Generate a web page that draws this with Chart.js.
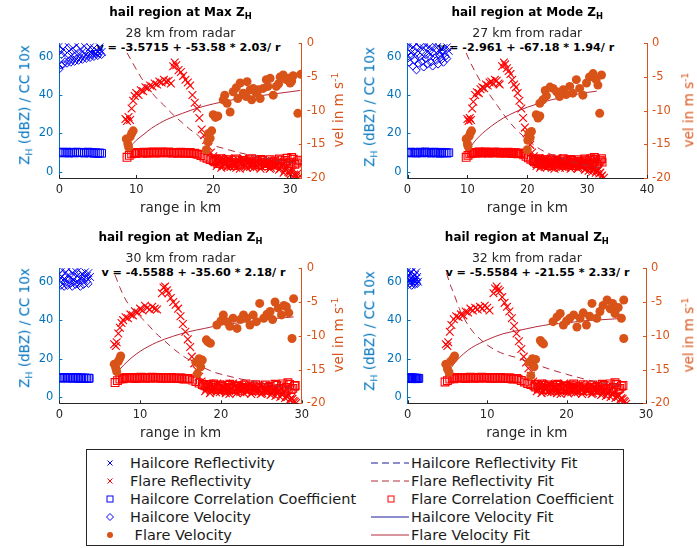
<!DOCTYPE html>
<html>
<head>
<meta charset="utf-8">
<script src="https://cdn.jsdelivr.net/npm/chart.js@4.4.0/dist/chart.umd.min.js"></script>
<style>
body { margin: 0; background: #fff; font-family: 'DejaVu Sans', sans-serif; }
#page { position: relative; width: 697px; height: 548px; overflow: hidden; }
canvas { position: absolute; }
.t { position: absolute; white-space: nowrap; line-height: 1; transform: translate(-50%, -50%); }
.rot { transform: translate(-50%, -50%) rotate(-90deg); }
.title { font-size: 12px; font-weight: bold; color: #000; }
.sub { font-size: 12.5px; color: #262626; }
.eq { font-size: 11.2px; font-weight: bold; color: #000; transform: translate(-50%, -50%); }
.axl { font-size: 13.5px; }
sub { font-size: 0.7em; vertical-align: -0.35em; line-height: 0; }
sup { font-size: 0.7em; vertical-align: 0.55em; line-height: 0; }
#legend { position: absolute; left: 86px; top: 449px; width: 536px; height: 95px; border: 1px solid #262626; background: #fff; }
#legend .lt { position: absolute; font-size: 14.5px; color: #1a1a1a; white-space: pre; line-height: 1; transform: translateY(-50%); }
#legend svg { position: absolute; }
</style>
</head>
<body>
<div id="page"><div id="legend"></div></div>
<script>
// tick labels
const leftTicks = [0, 20, 40, 60];
const rightTicks = [-20, -15, -10, -5, 0];
const xTicksMax = [0, 10, 20, 30];
const xTicksMode = [0, 10, 20, 30, 40];
const xTicksMedian = [0, 10, 20, 30];
const xTicksManual = [0, 10, 20, 30];

const panelNames = ['Max', 'Mode', 'Median', 'Manual'];
const distances = [28, 27, 30, 32];
const equations = [
  'v = -3.5715 + -53.58 * 2.03/ r',
  'v = -2.961 + -67.18 * 1.94/ r',
  'v = -4.5588 + -35.60 * 2.18/ r',
  'v = -5.5584 + -21.55 * 2.33/ r'
];

// ---- Max Z_H ----
const maxHailRef = [[0,65.5],[0.25,62],[0.5,64],[0.75,61],[1,66],[1.25,63],[1.5,60.5],[1.75,64.5],[2,62],[2.25,66],[2.5,61.5],[2.75,64],[3,62.5],[3.25,65.5],[3.5,61],[3.75,63.5],[4,65],[4.25,62],[4.5,64.5],[4.75,61.5],[5,63],[5.25,65],[5.5,62.5]];
const maxHailVel = [[0,53.5],[0.25,55.5],[0.5,56],[0.75,57.5],[1,56.5],[1.25,58],[1.5,57],[1.75,58.5],[2,57.5],[2.25,59],[2.5,58],[2.75,59.5],[3,58.5],[3.25,60],[3.5,59],[3.75,60.5],[4,59.5],[4.25,61],[4.5,60],[4.75,61.5],[5,60.5],[5.25,62],[5.5,61]];
const maxHailCC = [[0,10.2],[0.25,9.8],[0.5,10.1],[0.75,9.9],[1,10.2],[1.25,9.7],[1.5,10],[1.75,10.1],[2,9.8],[2.25,10.2],[2.5,9.9],[2.75,10],[3,10.1],[3.25,9.7],[3.5,10],[3.75,10.2],[4,9.8],[4.25,10],[4.5,9.6],[4.75,9.9],[5,9.5],[5.25,9.8],[5.5,9.6]];
const maxFlareRef = [[8.6,27.5],[8.8,26.5],[9.0,28.5],[9.2,27],[9.4,33],[9.6,37],[9.8,39.5],[10.0,41],[10.3,40],[10.6,42.5],[10.9,42],[11.2,44],[11.5,43.5],[11.8,45],[12.1,44.5],[12.4,46],[12.7,45.5],[13.0,47],[13.3,46.5],[13.6,48],[13.9,47],[14.2,47.5],[14.5,46],
  [14.8,55],[15.0,57],[15.2,55.5],[15.5,53],[15.8,52],[16.1,50],[16.4,48],[16.7,46.5],[17.0,45],[17.3,40],[17.6,36],[17.9,33],[18.2,28],[18.5,22],[18.8,19],[19.1,16.5],[19.4,13],[19.7,10],[20.0,8],
  [20.3,6],[20.6,4],[20.9,7],[21.2,3],[21.5,5.5],[21.8,2.5],[22.1,6.5],[22.4,3.5],[22.7,5],[23.0,2],[23.3,6],[23.6,4],[23.9,7],[24.2,3],[24.5,5],[24.8,2.5],[25.1,6],[25.4,4],[25.7,3],[26.0,6.5],[26.3,2.5],[26.6,5],[26.9,3.5],[27.2,6],[27.5,2],[27.8,4.5],[28.1,3],[28.4,5.5],[28.7,1.5],[29.0,3.5],[29.3,0.5],[29.6,2],[29.9,-0.5],[30.2,1],[30.5,-1.5],[30.8,-2.5],[31.1,-3],
  [20.45,3],[20.75,5.5],[21.05,2],[21.35,6.5],[21.65,4],[21.95,7],[22.25,2.5],[22.55,5],[22.85,3.5],[23.15,6.5],[23.45,1.5],[23.75,4.5],[24.05,5.5],[24.35,2],[24.65,6.5],[24.95,4],[25.25,2],[25.55,5.5],[25.85,4.5],[26.15,1.5],[26.45,5.5],[26.75,3],[27.05,4.5],[27.35,1.5],[27.65,5.5],[27.95,2.5],[28.25,4],[28.55,1],[28.85,3],[29.15,-0.5],[29.45,2.5],[29.75,0],[30.05,-1.5],[30.35,0.5],[30.65,-2],[30.95,-1]];
const maxFlareCC = [[8.8,7.5],[9.1,8.5],[9.4,9.3],[9.7,9.6],[10.0,9.8],[10.4,10],[10.8,9.7],[11.2,10.1],[11.6,9.8],[12.0,10.2],[12.4,9.9],[12.8,10],[13.2,10.3],[13.6,10],[14.0,9.8],[14.4,10.1],[14.8,9.7],[15.2,10],[15.6,9.8],[16.0,10.1],[16.4,9.6],[16.8,9.9],[17.2,9.5],[17.6,9.7],[18.0,9],[18.4,8.4],[18.8,7.6],[19.2,7],[19.6,6.3],[20.0,5.8],[20.4,6.5],[20.8,5],[21.2,6],[21.6,4.5],[22.0,5.5],[22.4,4],[22.8,6],[23.2,5],[23.6,3.8],[24.0,5.5],[24.4,4.5],[24.8,6.2],[25.2,4],[25.6,5.2],[26.0,3.5],[26.4,5.8],[26.8,4.2],[27.2,5],[27.6,3.7],[28.0,5.5],[28.4,4.2],[28.8,6],[29.2,4.5],[29.6,7],[30.0,5],[30.4,6.5],[30.8,4.5],[31.2,6],
  [9.9,9.5],[10.2,10.1],[10.6,9.9],[11.0,10.2],[11.4,9.6],[11.8,10],[12.2,10.3],[12.6,9.7],[13.0,9.9],[13.4,10.2],[13.8,9.9],[14.2,10.3],[14.6,9.8],[15.0,10.1],[15.4,9.6],[15.8,10.2],[16.2,9.9],[16.6,9.7],[17.0,10],[17.4,9.4],[17.8,9.3],
  [20.2,5.2],[20.6,4.2],[21.0,6.8],[21.4,3.8],[21.8,6.2],[22.2,4.8],[22.6,3.2],[23.0,6.6],[23.4,4.4],[23.8,5.9],[24.2,3.4],[24.6,4.9],[25.0,6.8],[25.4,4.6],[25.8,3.6],[26.2,6.4],[26.6,4.8],[27.0,3.2],[27.4,6.2],[27.8,5],[28.2,3.4],[28.6,6.6],[29.0,3.8],[29.4,5.8],[29.8,4.2],[30.2,7.4],[30.6,3.8],[31.0,5.6]];
const maxFlareVel = [[8.7,-14.2],[8.9,-14.9],[9.0,-15.4],[9.2,-13.9],[9.4,-13.4],[9.6,-13.0],
  [19.1,-15.8],[19.3,-14.6],[19.4,-13.4],[19.6,-14.1],[19.8,-13.0],[20.0,-10.6],[20.3,-11.0],[20.6,-10.8],
  [21.3,-8.4],[21.5,-7.7],[21.8,-8.9],[22.2,-10.2],[22.6,-7.2],[23.0,-6.6],[23.2,-8.2],[23.5,-5.9],[23.9,-7.4],[24.3,-7.9],[24.4,-5.7],[24.8,-6.9],[25.0,-8.4],[25.2,-6.7],[25.6,-7.4],[25.9,-6.9],[26.1,-8.2],[26.5,-6.7],[26.9,-5.4],[27.1,-6.4],[27.4,-5.2],[27.8,-7.7],[28.2,-6.4],[28.5,-6.0],[28.7,-5.0],[29.1,-4.7],[29.5,-5.4],[29.8,-5.2],[30.0,-5.9],[30.2,-5.6],[30.4,-4.8],[31.0,-10.4],[31.4,-4.6]];
const maxRefFit = [[8.8,62],[9.5,57],[10.5,50],[11.5,44],[12.5,39],[13.5,35],[14.8,29.7],[16,25.5],[17,22],[18,19],[19,15.3],[20,13.7],[21.3,12.2],[23,10.3],[25.7,7.9],[28,6.2],[30.9,4.4],[31.4,4.2]];
const maxVelFit = [[9.2,-15.4],[10,-14.4],[11,-13.5],[12,-12.6],[13,-11.9],[14,-11.3],[16,-10.4],[18,-9.6],[20,-9.0],[22,-8.5],[24,-8.1],[26,-7.8],[28,-7.5],[30,-7.2],[31.3,-7.0]];

// ---- Mode Z_H ----
const modeHailRef = [[0,64],[0.3,66],[0.6,62],[0.9,65],[1.2,61.5],[1.5,66.5],[1.8,63],[2.1,65],[2.4,61],[2.7,64.5],[3.0,66],[3.3,62.5],[3.6,65],[3.9,61.5],[4.2,64],[4.5,66],[4.8,62],[5.1,65.5],[5.4,63],[5.7,61],[6.0,64.5],[6.3,62.5],[6.6,65],[6.9,63]];
const modeHailVel = [[0,59],[0.3,57],[0.6,60.5],[0.9,55],[1.2,58],[1.5,53],[1.8,56.5],[2.1,60],[2.4,57.5],[2.7,54.5],[3.0,59],[3.3,56],[3.6,60],[3.9,57],[4.2,55],[4.5,59.5],[4.8,58],[5.1,56],[5.4,60.5],[5.7,58.5],[6.0,57],[6.3,60],[6.6,59]];
const modeHailCC = [[0,10],[0.3,9.8],[0.6,10.2],[0.9,9.9],[1.2,10.1],[1.5,9.7],[1.8,10],[2.1,10.2],[2.4,9.8],[2.7,10],[3.0,10.3],[3.3,9.9],[3.6,10.1],[3.9,9.7],[4.2,10],[4.5,10.2],[4.8,9.8],[5.1,10],[5.4,9.6],[5.7,10.1],[6.0,9.8],[6.3,10],[6.6,9.7],[6.9,9.9]];
const modeFlareRef = [[10.0,27.5],[10.2,26.5],[10.4,28],[10.6,27],[10.8,33],[11.0,36.5],[11.3,40],[11.6,41.5],[11.9,41],[12.2,43],[12.5,44],[12.8,43.5],[13.1,45.5],[13.4,45],[13.7,46.5],[14.0,47],[14.3,46],[14.6,48],[14.9,47.5],[15.2,46],[15.4,45.5],
  [15.8,55],[16.1,57],[16.3,56],[16.6,54],[16.9,52.5],[17.2,51],[17.5,48],[17.8,45.5],[18.1,44],[18.4,41],[18.7,37],[19.0,33],[19.3,28],[19.6,23],[19.9,20],[20.2,17],[20.5,14],[20.8,10],[21.1,8],
  [21.4,6],[21.7,4],[22.0,7],[22.3,3],[22.6,5.5],[22.9,2.5],[23.2,6.5],[23.5,3.5],[23.8,5],[24.1,2],[24.4,6],[24.7,4],[25.0,7],[25.3,3],[25.6,5],[25.9,2.5],[26.2,6],[26.5,4],[26.8,3],[27.1,6.5],[27.4,2.5],[27.7,5],[28.0,3.5],[28.3,6],[28.6,2],[28.9,4.5],[29.2,3],[29.5,5.5],[29.8,1.5],[30.1,3.5],[30.4,2],[30.7,4],[31.0,1.5],[31.3,3],[31.6,0.5],[31.9,1.5],[32.2,-0.5],[32.5,-2],[32.8,-3.2],
  [21.55,3],[21.85,5.5],[22.15,2],[22.45,6.5],[22.75,4],[23.05,7],[23.35,2.5],[23.65,5],[23.95,3.5],[24.25,6.5],[24.55,1.5],[24.85,4.5],[25.15,5.5],[25.45,2],[25.75,6.5],[26.05,4],[26.35,2],[26.65,5.5],[26.95,4.5],[27.25,1.5],[27.55,5.5],[27.85,3],[28.15,4.5],[28.45,1.5],[28.75,5.5],[29.05,2.5],[29.35,4],[29.65,1],[29.95,3],[30.25,0.5],[30.55,2.5],[30.85,0],[31.15,1.5],[31.45,-0.5],[31.75,0.5],[32.05,-1],[32.35,-2.5]];
const modeFlareCC = [[9.8,7.5],[10.1,8.5],[10.4,9.3],[10.7,9.7],[11.0,10],[11.4,9.8],[11.8,10.2],[12.2,9.9],[12.6,10.1],[13.0,10.3],[13.4,9.9],[13.8,10.1],[14.2,9.8],[14.6,10.2],[15.0,10],[15.4,9.8],[15.8,10.1],[16.2,9.7],[16.6,10],[17.0,9.8],[17.4,9.6],[17.8,9.9],[18.2,9.5],[18.6,9.7],[19.0,9.4],[19.4,8.8],[19.8,8],[20.2,7.2],[20.6,6.5],[21.0,5.8],[21.4,6.5],[21.8,5],[22.2,6],[22.6,4.5],[23.0,5.5],[23.4,4],[23.8,6],[24.2,5],[24.6,3.8],[25.0,5.5],[25.4,4.5],[25.8,6.2],[26.2,4],[26.6,5.2],[27.0,3.5],[27.4,5.8],[27.8,4.2],[28.2,5],[28.6,3.7],[29.0,5.5],[29.4,4.2],[29.8,6],[30.2,4.5],[30.6,6.8],[31.0,5],[31.4,6.5],[31.8,4.5],[32.2,6],[32.5,5],
  [10.9,9.6],[11.2,10.1],[11.6,9.9],[12.0,10.3],[12.4,9.7],[12.8,10],[13.2,10.2],[13.6,9.7],[14.0,10],[14.4,10.2],[14.8,9.8],[15.2,10.2],[15.6,9.7],[16.0,10],[16.4,9.9],[16.8,10.2],[17.2,9.8],[17.6,9.6],[18.0,9.9],[18.4,9.3],[18.8,9.6],
  [21.2,5.2],[21.6,4.2],[22.0,6.8],[22.4,3.8],[22.8,6.2],[23.2,4.8],[23.6,3.2],[24.0,6.6],[24.4,4.4],[24.8,5.9],[25.2,3.4],[25.6,4.9],[26.0,6.8],[26.4,4.6],[26.8,3.6],[27.2,6.4],[27.6,4.8],[28.0,3.2],[28.4,6.2],[28.8,5],[29.2,3.4],[29.6,6.6],[30.0,3.8],[30.4,5.8],[30.8,4.2],[31.2,7.4],[31.6,3.8],[32.0,5.6],[32.4,6.8]];
const modeFlareVel = [[9.8,-14.2],[10.0,-14.9],[10.1,-15.3],[10.3,-13.8],[10.5,-13.3],[10.7,-13.0],
  [20.0,-15.8],[20.1,-14.4],[20.3,-13.4],[20.5,-14.0],[20.7,-13.1],[21.5,-10.6],[21.8,-11.1],[22.1,-10.8],
  [22.1,-8.9],[22.6,-8.4],[23.0,-7.0],[23.2,-7.8],[23.8,-6.5],[24.3,-6.7],[24.9,-7.2],[25.4,-7.9],[26.0,-6.9],[26.5,-7.6],[27.1,-6.4],[27.6,-7.4],[28.2,-5.4],[28.75,-6.7],[29.3,-7.7],[29.9,-5.9],[30.4,-5.0],[31.0,-4.5],[31.5,-5.4],[31.8,-6.2],[32.1,-10.4],[32.4,-4.7]];
const modeRefFit = [[9.8,62],[10.5,57],[11.5,51],[12.5,45.5],[13.75,40],[15,34.5],[16.5,28],[18,22.5],[19.9,17],[21.5,13],[23,10.3],[24.9,7.9],[27,5.6],[29,3.9],[31,2.6],[32.6,1.8]];
const modeVelFit = [[10.6,-15.3],[11,-14.8],[12,-13.8],[13,-13.0],[14,-12.3],[16,-11.1],[18,-10.2],[20,-9.5],[22,-8.9],[24,-8.4],[26,-8.0],[28,-7.6],[30,-7.3],[31.6,-7.1]];

// ---- Median Z_H ----
const medianHailRef = [[0,64],[0.2,62],[0.4,66],[0.6,61.5],[0.8,65],[1.0,63],[1.2,66.5],[1.4,62],[1.6,64.5],[1.8,61],[2.0,65.5],[2.2,63],[2.4,66],[2.6,62],[2.8,64],[3.0,61.5],[3.2,65],[3.4,63],[3.6,64.5],[3.8,62.5]];
const medianHailVel = [[0,59],[0.2,58],[0.4,60.5],[0.6,57.5],[0.8,59.5],[1.0,58],[1.2,61],[1.4,59],[1.6,57.5],[1.8,60],[2.0,58.5],[2.2,61],[2.4,59],[2.6,57.5],[2.8,60.5],[3.0,58.5],[3.2,61.5],[3.4,60],[3.6,59]];
const medianHailCC = [[0,10],[0.2,9.8],[0.4,10.1],[0.6,9.9],[0.8,10.2],[1.0,9.8],[1.2,10],[1.4,10.1],[1.6,9.7],[1.8,10],[2.0,9.9],[2.2,10.2],[2.4,9.6],[2.6,9.8],[2.8,10],[3.0,9.7],[3.2,9.9],[3.4,9.6],[3.6,9.8],[3.7,9.7]];
const medianFlareRef = [[6.8,27.5],[7.0,26.5],[7.1,28.5],[7.3,33],[7.5,36],[7.7,38.5],[7.9,40],[8.2,41.5],[8.5,41],[8.8,43],[9.1,42.5],[9.4,44.5],[9.7,44],[10.0,46],[10.3,45],[10.6,47.5],[10.9,46.5],[11.2,45.5],[11.5,47],[11.8,46],[12.1,45.5],
  [12.7,54],[12.9,57],[13.1,57.5],[13.3,55.5],[13.5,54],[13.8,51.5],[14.1,49.5],[14.4,48],[14.7,46],[15.0,42],[15.3,38],[15.6,34],[15.9,30],[16.2,26],[16.4,21],[16.7,17.5],[17.0,14],[17.3,10.5],[17.6,8],
  [17.9,6],[18.2,4],[18.5,7],[18.8,3],[19.1,5.5],[19.4,2.5],[19.7,6.5],[20.0,3.5],[20.3,5],[20.6,2],[20.9,6],[21.2,4],[21.5,7],[21.8,3],[22.1,5],[22.4,2.5],[22.7,6],[23.0,4],[23.3,3],[23.6,6.5],[23.9,2.5],[24.2,5],[24.5,3.5],[24.8,6],[25.1,2],[25.4,4.5],[25.7,3],[26.0,5.5],[26.3,1.5],[26.6,4],[26.9,2.5],[27.2,3.5],[27.5,1.5],[27.8,2.5],[28.1,0.5],[28.4,1],[28.7,-0.5],[29.0,-2],[29.3,-3.2],
  [18.05,3],[18.35,5.5],[18.65,2],[18.95,6.5],[19.25,4],[19.55,7],[19.85,2.5],[20.15,5],[20.45,3.5],[20.75,6.5],[21.05,1.5],[21.35,4.5],[21.65,5.5],[21.95,2],[22.25,6.5],[22.55,4],[22.85,2],[23.15,5.5],[23.45,4.5],[23.75,1.5],[24.05,5.5],[24.35,3],[24.65,4.5],[24.95,1.5],[25.25,5.5],[25.55,2.5],[25.85,4],[26.15,1],[26.45,3],[26.75,0.5],[27.05,2.5],[27.35,0],[27.65,1.5],[27.95,-0.5],[28.25,0],[28.55,-1.5],[28.85,-1],[29.15,-2.5]];
const medianFlareCC = [[6.9,7.5],[7.2,8.5],[7.5,9.3],[7.8,9.7],[8.1,10],[8.5,9.8],[8.9,10.2],[9.3,9.9],[9.7,10.1],[10.1,10.3],[10.5,9.9],[10.9,10.1],[11.3,9.8],[11.7,10.2],[12.1,10],[12.5,9.8],[12.9,10.1],[13.3,9.7],[13.7,10],[14.1,9.8],[14.5,9.6],[14.9,9.9],[15.3,9.5],[15.7,9.7],[16.1,9.4],[16.5,8.8],[16.9,8],[17.3,7.2],[17.7,6.5],[18.1,5.8],[18.5,6.5],[18.9,5],[19.3,6],[19.7,4.5],[20.1,5.5],[20.5,4],[20.9,6],[21.3,5],[21.7,3.8],[22.1,5.5],[22.5,4.5],[22.9,6.2],[23.3,4],[23.7,5.2],[24.1,3.5],[24.5,5.8],[24.9,4.2],[25.3,5],[25.7,3.7],[26.1,5.5],[26.5,4.2],[26.9,6],[27.3,4.5],[27.7,6.8],[28.1,5],[28.5,6.5],[28.9,4.5],[29.2,6],
  [7.9,9.5],[8.3,10.1],[8.7,9.9],[9.1,10.2],[9.5,9.6],[9.9,10],[10.3,10.2],[10.7,9.7],[11.1,10],[11.5,10.3],[11.9,9.8],[12.3,10.2],[12.7,9.7],[13.1,10],[13.5,9.9],[13.9,10.2],[14.3,9.8],[14.7,9.6],[15.1,9.9],[15.5,9.3],[15.9,9.6],
  [17.9,6.2],[18.3,5.2],[18.7,4.2],[19.1,6.8],[19.5,3.8],[19.9,6.2],[20.3,4.8],[20.7,3.2],[21.1,6.6],[21.5,4.4],[21.9,5.9],[22.3,3.4],[22.7,4.9],[23.1,6.8],[23.5,4.6],[23.9,3.6],[24.3,6.4],[24.7,4.8],[25.1,3.2],[25.5,6.2],[25.9,5],[26.3,3.4],[26.7,6.6],[27.1,3.8],[27.5,5.8],[27.9,4.2],[28.3,7.4],[28.7,3.8],[29.1,5.6]];
const medianFlareVel = [[6.8,-14.2],[7.0,-14.8],[7.1,-15.3],[7.3,-13.8],[7.5,-13.3],[7.6,-13.0],
  [16.9,-13.9],[17.1,-15.6],[17.3,-13.4],[17.5,-14.6],[17.7,-13.6],[18.2,-10.6],[18.4,-10.9],[18.7,-11.1],
  [19.5,-8.4],[20.0,-7.8],[20.3,-6.9],[20.7,-7.9],[21.1,-8.6],[21.5,-7.4],[22.0,-8.9],[22.4,-7.6],[22.8,-6.9],[23.2,-7.4],[23.6,-8.4],[24.0,-6.9],[24.4,-7.9],[24.8,-5.2],[25.3,-7.4],[25.7,-6.8],[26.1,-6.4],[26.4,-7.6],[26.7,-5.0],[27.1,-5.9],[27.5,-6.9],[27.8,-5.5],[28.1,-5.7],[28.4,-6.6],[28.8,-10.4],[29.0,-4.5]];
const medianRefFit = [[6.9,63.5],[7.5,57],[8.3,50],[9.5,44],[10.8,38.5],[12,33],[12.9,29.7],[14.3,24.5],[15.8,20],[17.5,16],[19.1,13],[21,10.8],[23.2,8.7],[25.5,6.8],[27.5,5.2],[29,4.4]];
const medianVelFit = [[6.9,-15.8],[8,-14.3],[9,-13.2],[10,-12.3],[12,-11.0],[14,-10.1],[16,-9.4],[18,-8.9],[20,-8.4],[22,-8.1],[24,-7.8],[26,-7.5],[28,-7.3],[29,-7.2]];

// ---- Manual Z_H ----
const manualHailRef = [[0,63],[0.1,66],[0.2,61],[0.3,64.5],[0.4,60],[0.5,65],[0.6,62],[0.7,66.5],[0.8,60.5],[0.9,63.5],[1.0,61.5],[1.1,65],[1.2,62.5],[1.3,60]];
const manualHailVel = [[0,60],[0.1,58.5],[0.2,61],[0.3,59],[0.4,62],[0.5,58],[0.6,60.5],[0.7,59.5],[0.8,61.5],[0.9,58.5],[1.0,60],[1.1,61],[1.2,59]];
const manualHailCC = [[0,9.8],[0.1,10],[0.2,9.6],[0.3,9.9],[0.4,9.7],[0.5,10],[0.6,9.5],[0.7,9.8],[0.8,9.6],[0.9,9.9],[1.0,9.7],[1.1,9.5],[1.2,9.8],[1.3,9.6],[1.4,9.7]];
const manualFlareRef = [[4.8,27.5],[5.0,26.5],[5.1,28.5],[5.3,34],[5.5,37.5],[5.8,40.5],[6.1,42],[6.4,41.5],[6.7,43],[7.0,42.5],[7.3,44.5],[7.6,44],[7.9,46],[8.2,45],[8.5,46.5],[8.8,45.5],[9.1,47],[9.4,46],[9.7,47.5],[10.0,46.5],[10.3,45],
  [10.8,54],[11.0,56.5],[11.2,57.5],[11.4,56],[11.6,55],[11.9,52],[12.2,49],[12.5,47],[12.8,44.5],[13.1,41],[13.4,37],[13.7,33],[14.0,29],[14.3,25],[14.6,21],[14.9,18],[15.2,15],[15.5,11],[15.8,8],
  [16.1,6],[16.4,4],[16.7,7],[17.0,3],[17.3,5.5],[17.6,2.5],[17.9,6.5],[18.2,3.5],[18.5,5],[18.8,2],[19.1,6],[19.4,4],[19.7,7],[20.0,3],[20.3,5],[20.6,2.5],[20.9,6],[21.2,4],[21.5,3],[21.8,6.5],[22.1,2.5],[22.4,5],[22.7,3.5],[23.0,6],[23.3,2],[23.6,4.5],[23.9,3],[24.2,5.5],[24.5,1.5],[24.8,4],[25.1,2.5],[25.4,3.5],[25.7,1.5],[26.0,2.5],[26.3,0.5],[26.6,1],[26.9,-0.5],[27.2,-2],[27.5,-3.5],
  [16.25,3],[16.55,5.5],[16.85,2],[17.15,6.5],[17.45,4],[17.75,7],[18.05,2.5],[18.35,5],[18.65,3.5],[18.95,6.5],[19.25,1.5],[19.55,4.5],[19.85,5.5],[20.15,2],[20.45,6.5],[20.75,4],[21.05,2],[21.35,5.5],[21.65,4.5],[21.95,1.5],[22.25,5.5],[22.55,3],[22.85,4.5],[23.15,1.5],[23.45,5.5],[23.75,2.5],[24.05,4],[24.35,1],[24.65,3],[24.95,0.5],[25.25,2.5],[25.55,0],[25.85,1.5],[26.15,-0.5],[26.45,0],[26.75,-1.5],[27.05,-1],[27.35,-2.5]];
const manualFlareCC = [[4.7,7.8],[5.0,8.5],[5.3,9.3],[5.6,9.7],[5.9,10],[6.3,9.8],[6.7,10.2],[7.1,9.9],[7.5,10.1],[7.9,10.3],[8.3,9.9],[8.7,10.1],[9.1,9.8],[9.5,10.2],[9.9,10],[10.3,9.8],[10.7,10.1],[11.1,9.7],[11.5,10],[11.9,9.8],[12.3,9.6],[12.7,9.9],[13.1,9.5],[13.5,9.7],[13.9,9.3],[14.3,8.6],[14.7,7.8],[15.1,7],[15.5,6.4],[15.9,5.8],[16.3,6.5],[16.7,5],[17.1,6],[17.5,4.5],[17.9,5.5],[18.3,4],[18.7,6],[19.1,5],[19.5,3.8],[19.9,5.5],[20.3,4.5],[20.7,6.2],[21.1,4],[21.5,5.2],[21.9,3.5],[22.3,5.8],[22.7,4.2],[23.1,5],[23.5,3.7],[23.9,5.5],[24.3,4.2],[24.7,6],[25.1,4.5],[25.5,6.8],[25.9,5],[26.3,6.5],[26.7,4.5],[27.1,6],
  [5.8,9.5],[6.1,10.1],[6.5,9.9],[6.9,10.2],[7.3,9.6],[7.7,10],[8.1,10.2],[8.5,9.7],[8.9,10],[9.3,10.3],[9.7,9.8],[10.1,10.2],[10.5,9.7],[10.9,10],[11.3,9.9],[11.7,10.2],[12.1,9.8],[12.5,9.6],[12.9,9.9],[13.3,9.3],[13.7,9.6],
  [16.1,5.2],[16.5,4.2],[16.9,6.8],[17.3,3.8],[17.7,6.2],[18.1,4.8],[18.5,3.2],[18.9,6.6],[19.3,4.4],[19.7,5.9],[20.1,3.4],[20.5,4.9],[20.9,6.8],[21.3,4.6],[21.7,3.6],[22.1,6.4],[22.5,4.8],[22.9,3.2],[23.3,6.2],[23.7,5],[24.1,3.4],[24.5,6.6],[24.9,3.8],[25.3,5.8],[25.7,4.2],[26.1,7.4],[26.5,3.8],[26.9,5.6]];
const manualFlareVel = [[4.8,-14.2],[5.0,-14.9],[5.2,-15.4],[5.4,-13.8],[5.7,-13.4],[5.9,-13.0],
  [15.3,-13.9],[15.5,-15.9],[15.7,-13.4],[15.9,-14.6],[16.1,-13.5],[16.7,-10.7],[16.9,-11.0],[17.1,-11.2],
  [18.3,-7.9],[18.8,-7.2],[19.2,-6.7],[19.6,-8.4],[20.0,-7.8],[20.4,-7.4],[20.9,-6.9],[21.3,-8.7],[21.7,-7.4],[22.1,-6.6],[22.5,-8.4],[22.9,-7.1],[23.2,-5.2],[23.8,-7.4],[24.2,-6.4],[24.6,-5.5],[25.1,-4.7],[25.5,-6.0],[25.8,-5.2],[26.1,-6.7],[26.5,-5.8],[26.9,-7.4],[27.2,-4.7],[27.2,-10.4]];
const manualRefFit = [[4.9,64.5],[5.3,59],[5.75,54.5],[6.5,46],[7.3,39.5],[8.2,34],[9.1,30.2],[10.1,26.8],[11.2,24],[12.4,22],[13.7,20.5],[15.2,18.2],[16.7,16.1],[18.3,13.9],[20,11.8],[21.7,9.9],[23.4,8.2],[25.3,6.8],[27.2,5.6]];
const manualVelFit = [[4.8,-15.9],[5.5,-14.7],[6,-13.9],[7,-12.7],[8,-11.8],[10,-10.6],[12,-9.7],[14,-9.2],[16,-8.7],[18,-8.3],[20,-8.1],[22,-7.8],[24,-7.65],[26,-7.5],[27.2,-7.4]];

const BLUE = '#0000ff', RED = '#ff0000', ORANGE = '#d95319';
const FIT_RED = '#b32a3a', NAVY = '#1c1c9c';
const AX_BLUE = '#0072bd', GRAY = '#262626';

Chart.defaults.font.family = "'DejaVu Sans', sans-serif";

const panels = [
  { left: 0, top: 0, w: 345, h: 225, area: { left: 59.3, right: 301.7, top: 43.3, bottom: 178 }, xMax: 31.5, xTicks: xTicksMax,
    eqX: 188.5, labL: [25, 105], labR: [339, 110],
    s: [maxHailRef, maxHailVel, maxHailCC, maxFlareRef, maxFlareCC, maxFlareVel, maxRefFit, maxVelFit] },
  { left: 345, top: 0, w: 352, h: 225, area: { left: 62.5, right: 302, top: 43.3, bottom: 178 }, xMax: 40, xTicks: xTicksMode,
    eqX: 181, labL: [25, 107], labR: [344, 110],
    s: [modeHailRef, modeHailVel, modeHailCC, modeFlareRef, modeFlareCC, modeFlareVel, modeRefFit, modeVelFit] },
  { left: 0, top: 225, w: 345, h: 225, area: { left: 59.3, right: 301.7, top: 43.3, bottom: 178.3 }, xMax: 30, xTicks: xTicksMedian,
    eqX: 193.5, labL: [25, 103], labR: [339, 110],
    s: [medianHailRef, medianHailVel, medianHailCC, medianFlareRef, medianFlareCC, medianFlareVel, medianRefFit, medianVelFit] },
  { left: 345, top: 225, w: 352, h: 225, area: { left: 62.7, right: 301, top: 43.3, bottom: 178.3 }, xMax: 30, xTicks: xTicksManual,
    eqX: 192.5, labL: [25, 106], labR: [344, 110],
    s: [manualHailRef, manualHailVel, manualHailCC, manualFlareRef, manualFlareCC, manualFlareVel, manualRefFit, manualVelFit] }
];

const page = document.getElementById('page');

function addText(html, x, y, cls, color) {
  const d = document.createElement('div');
  d.className = 't ' + cls;
  d.innerHTML = html;
  d.style.left = x + 'px';
  d.style.top = y + 'px';
  if (color) d.style.color = color;
  page.appendChild(d);
  return d;
}

const pts = arr => arr.map(p => ({ x: p[0], y: p[1] }));

// MATLAB style ticks pointing into the axes
const inwardTicks = {
  id: 'inwardTicks',
  afterDraw(chart) {
    const { ctx, chartArea: a, scales } = chart;
    const len = 3;
    ctx.save();
    ctx.lineWidth = 1;
    const draw = (scale, color, fn) => {
      ctx.strokeStyle = color;
      ctx.beginPath();
      scale.ticks.forEach(t => fn(Math.round(scale.getPixelForValue(t.value)) + 0.5));
      ctx.stroke();
    };
    draw(scales.x, GRAY, p => { ctx.moveTo(p, a.bottom); ctx.lineTo(p, a.bottom - len); });
    draw(scales.yL, AX_BLUE, p => { ctx.moveTo(a.left, p); ctx.lineTo(a.left + len, p); });
    draw(scales.yR, ORANGE, p => { ctx.moveTo(a.right, p); ctx.lineTo(a.right - len, p); });
    ctx.restore();
  }
};

panels.forEach((p, i) => {
  const cx = p.left + (p.area.left + p.area.right) / 2;
  // equation sits under the markers, so it goes before the canvas
  addText(equations[i], p.left + p.eqX, p.top + 48, 'eq');

  const cv = document.createElement('canvas');
  cv.width = p.w; cv.height = p.h;
  cv.style.left = p.left + 'px';
  cv.style.top = p.top + 'px';
  page.appendChild(cv);

  const [hailRef, hailVel, hailCC, flareRef, flareCC, flareVel, refFit, velFit] = p.s;
  new Chart(cv, {
    type: 'scatter',
    data: {
      datasets: [
        { label: 'Flare Velocity', data: pts(flareVel), yAxisID: 'yR', pointStyle: 'circle', pointRadius: 4.5,
          backgroundColor: ORANGE, borderColor: ORANGE, borderWidth: 0 },
        { label: 'Flare Velocity Fit', data: pts(velFit), yAxisID: 'yR', showLine: true, pointRadius: 0,
          borderColor: FIT_RED, borderWidth: 1, cubicInterpolationMode: 'monotone' },
        { label: 'Flare Reflectivity Fit', data: pts(refFit), yAxisID: 'yL', showLine: true, pointRadius: 0,
          borderColor: FIT_RED, borderWidth: 1, borderDash: [7, 5], cubicInterpolationMode: 'monotone' },
        { label: 'Flare Reflectivity', data: pts(flareRef), yAxisID: 'yL', pointStyle: 'crossRot', pointRadius: 5.5,
          borderColor: RED, borderWidth: 1.1 },
        { label: 'Flare Correlation Coefficient', data: pts(flareCC), yAxisID: 'yL', pointStyle: 'rect', pointRadius: 5.5,
          borderColor: RED, backgroundColor: 'rgba(0,0,0,0)', borderWidth: 1.1 },
        { label: 'Hailcore Reflectivity', data: pts(hailRef), yAxisID: 'yL', pointStyle: 'crossRot', pointRadius: 5.5,
          borderColor: BLUE, borderWidth: 1 },
        { label: 'Hailcore Velocity', data: pts(hailVel), yAxisID: 'yL', pointStyle: 'rectRot', pointRadius: 3.8,
          borderColor: BLUE, backgroundColor: 'rgba(0,0,0,0)', borderWidth: 1 },
        { label: 'Hailcore Correlation Coefficient', data: pts(hailCC), yAxisID: 'yL', pointStyle: 'rect', pointRadius: 5.5,
          borderColor: BLUE, backgroundColor: 'rgba(0,0,0,0)', borderWidth: 1 }
      ]
    },
    options: {
      responsive: false,
      animation: false,
      events: [],
      layout: { padding: { top: p.area.top, left: 0, right: 0, bottom: 0 } },
      plugins: { legend: { display: false }, tooltip: { enabled: false } },
      scales: {
        x: {
          type: 'linear', position: 'bottom', min: 0, max: p.xMax,
          afterBuildTicks: s => { s.ticks = p.xTicks.map(v => ({ value: v })); },
          afterFit: s => { s.height = p.h - p.area.bottom; },
          grid: { display: false, drawTicks: false },
          border: { display: true, color: GRAY, width: 1 },
          ticks: { color: GRAY, font: { size: 11.5 }, padding: 5, maxRotation: 0 }
        },
        yL: {
          type: 'linear', position: 'left', min: -3.3, max: 67,
          afterBuildTicks: s => { s.ticks = leftTicks.map(v => ({ value: v })); },
          afterFit: s => { s.width = p.area.left; },
          grid: { display: false, drawTicks: false },
          border: { display: true, color: AX_BLUE, width: 1 },
          ticks: { color: AX_BLUE, font: { size: 11.5 }, padding: 6 }
        },
        yR: {
          type: 'linear', position: 'right', min: -20, max: 0,
          afterBuildTicks: s => { s.ticks = rightTicks.map(v => ({ value: v })); },
          afterFit: s => { s.width = p.w - p.area.right; },
          grid: { display: false, drawTicks: false },
          border: { display: true, color: ORANGE, width: 1 },
          ticks: { color: ORANGE, font: { size: 11.5 }, padding: 5 }
        }
      }
    },
    plugins: [inwardTicks]
  });

  addText('hail region at ' + panelNames[i] + ' Z<sub>H</sub>', cx, p.top + 12, 'title');
  addText(distances[i] + ' km from radar', cx, p.top + 33, 'sub');
  addText('range in km', cx, p.top + 208, 'axl', GRAY);
  addText('Z<sub>H</sub> (dBZ) / CC 10x', p.left + p.labL[0], p.top + p.labL[1], 'axl rot', AX_BLUE);
  addText('vel in m s<sup>-1</sup>', p.left + p.labR[0], p.top + p.labR[1], 'axl rot', ORANGE);
});

// legend
const legendLeft = [
  { label: 'Hailcore Reflectivity', mark: 'x', color: BLUE },
  { label: 'Flare Reflectivity', mark: 'x', color: RED },
  { label: 'Hailcore Correlation Coefficient', mark: 'sq', color: BLUE },
  { label: 'Hailcore Velocity', mark: 'dia', color: BLUE },
  { label: ' Flare Velocity', mark: 'dot', color: ORANGE }
];
const legendRight = [
  { label: 'Hailcore Reflectivity Fit', mark: 'dash', color: NAVY },
  { label: 'Flare Reflectivity Fit', mark: 'dash', color: FIT_RED },
  { label: 'Flare Correlation Coefficient', mark: 'sq', color: RED },
  { label: 'Hailcore Velocity Fit', mark: 'line', color: NAVY },
  { label: 'Flare Velocity Fit', mark: 'line', color: FIT_RED }
];

const legend = document.getElementById('legend');
const NS = 'http://www.w3.org/2000/svg';
function icon(mark, color, cx, cy) {
  const svg = document.createElementNS(NS, 'svg');
  const wide = mark === 'dash' || mark === 'line';
  const w = wide ? 38 : 12, h = wide ? 4 : 12;
  svg.setAttribute('width', w); svg.setAttribute('height', h);
  svg.style.left = (wide ? cx : cx - 6) + 'px';
  svg.style.top = (cy - h / 2) + 'px';
  let shape;
  if (mark === 'x') {
    shape = document.createElementNS(NS, 'path');
    shape.setAttribute('d', 'M3.5 3.5L8.5 8.5M8.5 3.5L3.5 8.5');
    shape.setAttribute('stroke', color); shape.setAttribute('stroke-width', '1');
  } else if (mark === 'sq') {
    shape = document.createElementNS(NS, 'rect');
    shape.setAttribute('x', 3); shape.setAttribute('y', 3); shape.setAttribute('width', 6); shape.setAttribute('height', 6);
    shape.setAttribute('fill', 'none'); shape.setAttribute('stroke', color);
  } else if (mark === 'dia') {
    shape = document.createElementNS(NS, 'path');
    shape.setAttribute('d', 'M6 2.5L9.5 6L6 9.5L2.5 6Z');
    shape.setAttribute('fill', 'none'); shape.setAttribute('stroke', color);
  } else if (mark === 'dot') {
    shape = document.createElementNS(NS, 'circle');
    shape.setAttribute('cx', 6); shape.setAttribute('cy', 6); shape.setAttribute('r', 3);
    shape.setAttribute('fill', color);
  } else {
    shape = document.createElementNS(NS, 'line');
    shape.setAttribute('x1', 0); shape.setAttribute('y1', 2); shape.setAttribute('x2', 38); shape.setAttribute('y2', 2);
    shape.setAttribute('stroke', color); shape.setAttribute('stroke-width', '1');
    if (mark === 'dash') shape.setAttribute('stroke-dasharray', '7 4');
  }
  svg.appendChild(shape);
  legend.appendChild(svg);
}
function legendText(txt, x, y) {
  const d = document.createElement('div');
  d.className = 'lt';
  d.textContent = txt;
  d.style.left = x + 'px';
  d.style.top = y + 'px';
  legend.appendChild(d);
}
const rowY = [12.5, 30.5, 48.5, 66.5, 84.5];
legendLeft.forEach((it, k) => { icon(it.mark, it.color, 23, rowY[k]); legendText(it.label, 43, rowY[k]); });
legendRight.forEach((it, k) => {
  if (it.mark === 'sq') icon(it.mark, it.color, 304, rowY[k]);
  else icon(it.mark, it.color, 284, rowY[k]);
  legendText(it.label, 324, rowY[k]);
});
</script>
</body>
</html>
